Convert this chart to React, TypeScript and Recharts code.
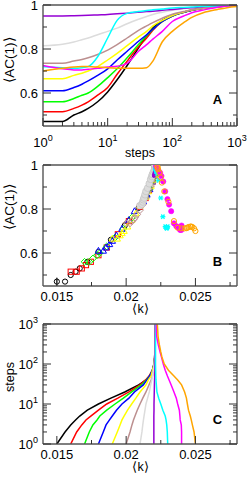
import React from "react"
import { LineChart, Line, XAxis, YAxis, ScatterChart, Scatter, ErrorBar } from "recharts"

// sampled simulation steps (shared by all runs)
const steps = [1, 2, 3, 4, 5, 7, 10, 14, 20, 30, 40, 50, 70, 100, 150, 200, 300, 500, 700, 1000]

// <k> per step for each run
const blackK = [0.015, 0.01559, 0.016, 0.01635, 0.01665, 0.0172, 0.018, 0.0189, 0.0199, 0.0209, 0.02145, 0.0217, 0.0219, 0.022, 0.02205, 0.02208, 0.0221, 0.0221, 0.0221, 0.0221]
const redK = [0.016, 0.01643, 0.0168, 0.0171, 0.01745, 0.018, 0.0186, 0.0194, 0.0202, 0.021, 0.0214, 0.02165, 0.0219, 0.02203, 0.02207, 0.0221, 0.0221, 0.0221, 0.0221, 0.0221]
const greenK = [0.017, 0.01734, 0.0176, 0.0179, 0.0181, 0.0186, 0.0192, 0.0198, 0.0204, 0.0211, 0.02145, 0.0217, 0.0219, 0.02203, 0.02207, 0.0221, 0.0221, 0.0221, 0.0221, 0.0221]
const blueK = [0.018, 0.01835, 0.01855, 0.0188, 0.019, 0.0193, 0.0197, 0.0202, 0.0206, 0.02124, 0.0215, 0.0217, 0.0219, 0.02203, 0.02207, 0.0221, 0.0221, 0.0221, 0.0221, 0.0221]
const yellowK = [0.019, 0.01936, 0.01956, 0.0197, 0.01985, 0.0201, 0.0204, 0.0207, 0.021, 0.02143, 0.0216, 0.0218, 0.0219, 0.02203, 0.02207, 0.0221, 0.0221, 0.0221, 0.0221, 0.0221]
const brownK = [0.02, 0.02028, 0.02042, 0.02053, 0.02064, 0.0208, 0.021, 0.0212, 0.02143, 0.02165, 0.0218, 0.0219, 0.02198, 0.02203, 0.02207, 0.0221, 0.0221, 0.0221, 0.0221, 0.0221]
const greyK = [0.021, 0.02114, 0.0212, 0.02125, 0.02129, 0.02136, 0.02143, 0.02155, 0.02167, 0.02177, 0.02185, 0.0219, 0.02197, 0.02203, 0.02207, 0.0221, 0.0221, 0.0221, 0.0221, 0.0221]
const violetK = [0.022, 0.022, 0.022, 0.022, 0.022, 0.02201, 0.02201, 0.02202, 0.02203, 0.02204, 0.02205, 0.02206, 0.02207, 0.02208, 0.02209, 0.0221, 0.0221, 0.0221, 0.0221, 0.0221]
const cyanK = [0.023, 0.02297, 0.02293, 0.02288, 0.02282, 0.02265, 0.0225, 0.02235, 0.02222, 0.02218, 0.02215, 0.02214, 0.02213, 0.02212, 0.02212, 0.02212, 0.02212, 0.02213, 0.02213, 0.02213]
const magentaK = [0.024, 0.024, 0.02398, 0.0239, 0.02388, 0.02384, 0.02372, 0.02362, 0.02345, 0.02325, 0.0231, 0.02298, 0.02282, 0.02268, 0.02255, 0.02245, 0.02232, 0.0222, 0.02218, 0.02217]
const orangeK = [0.025, 0.0249, 0.02478, 0.0247, 0.02463, 0.0245, 0.02442, 0.02435, 0.02422, 0.024, 0.02372, 0.02345, 0.02305, 0.02275, 0.02258, 0.0225, 0.0224, 0.0223, 0.02228, 0.02225]

// <AC(1)> per step for each run
const blackAc = [0.47, 0.47, 0.5, 0.515, 0.53, 0.56, 0.605, 0.66, 0.725, 0.805, 0.86, 0.895, 0.93, 0.952, 0.968, 0.977, 0.986, 0.993, 0.996, 0.998]
const redAc = [0.515, 0.515, 0.53, 0.545, 0.56, 0.59, 0.625, 0.685, 0.745, 0.81, 0.85, 0.885, 0.925, 0.95, 0.967, 0.976, 0.985, 0.992, 0.995, 0.998]
const greenAc = [0.56, 0.56, 0.575, 0.59, 0.6, 0.63, 0.67, 0.71, 0.76, 0.82, 0.86, 0.89, 0.925, 0.95, 0.967, 0.976, 0.985, 0.992, 0.995, 0.998]
const blueAc = [0.61, 0.61, 0.625, 0.64, 0.655, 0.68, 0.71, 0.75, 0.79, 0.835, 0.865, 0.89, 0.925, 0.95, 0.967, 0.976, 0.985, 0.992, 0.995, 0.998]
const yellowAc = [0.665, 0.665, 0.68, 0.69, 0.7, 0.72, 0.75, 0.78, 0.815, 0.855, 0.88, 0.905, 0.93, 0.952, 0.968, 0.977, 0.985, 0.992, 0.995, 0.998]
const brownAc = [0.735, 0.735, 0.745, 0.752, 0.76, 0.775, 0.795, 0.82, 0.85, 0.885, 0.905, 0.92, 0.94, 0.958, 0.97, 0.978, 0.986, 0.993, 0.996, 0.998]
const greyAc = [0.815, 0.822, 0.832, 0.842, 0.85, 0.865, 0.88, 0.895, 0.915, 0.935, 0.948, 0.957, 0.967, 0.976, 0.983, 0.988, 0.992, 0.995, 0.997, 0.998]
const violetAc = [0.95, 0.95, 0.951, 0.952, 0.953, 0.955, 0.957, 0.96, 0.963, 0.967, 0.97, 0.972, 0.976, 0.98, 0.985, 0.988, 0.992, 0.995, 0.997, 0.998]
const cyanAc = [0.72, 0.715, 0.712, 0.715, 0.72, 0.765, 0.85, 0.93, 0.962, 0.97, 0.975, 0.978, 0.982, 0.986, 0.989, 0.991, 0.994, 0.996, 0.997, 0.998]
const magentaAc = [0.725, 0.71, 0.705, 0.705, 0.708, 0.712, 0.718, 0.722, 0.735, 0.79, 0.82, 0.845, 0.88, 0.925, 0.95, 0.965, 0.977, 0.99, 0.995, 0.998]
const orangeAc = [0.7, 0.712, 0.718, 0.72, 0.72, 0.718, 0.715, 0.713, 0.712, 0.712, 0.715, 0.745, 0.833, 0.88, 0.92, 0.944, 0.965, 0.98, 0.988, 0.993]
const blackAcErr = [0.018]

// axis ticks
const logTicks = [1, 2, 3, 4, 5, 6, 7, 8, 9, 10, 20, 30, 40, 50, 60, 70, 80, 90, 100, 200, 300, 400, 500, 600, 700, 800, 900, 1000]
const logMajor = [1, 10, 100, 1000]
const acTicks = [0.5, 0.6, 0.7, 0.8, 0.9, 1]
const acMajor = [0.6, 0.8, 1]
const kTicks = [0.015, 0.0175, 0.02, 0.0225, 0.025, 0.0275]
const kMajor = [0.015, 0.02, 0.025]

type Mark = "circle" | "square" | "diamond" | "triangle" | "star" | "dot" | "disc"

const runs: { color: string; k: number[]; ac: number[]; mark: Mark }[] = [
  { color: "#000000", k: blackK, ac: blackAc, mark: "circle" },
  { color: "#ff0000", k: redK, ac: redAc, mark: "square" },
  { color: "#00ff00", k: greenK, ac: greenAc, mark: "diamond" },
  { color: "#0000ff", k: blueK, ac: blueAc, mark: "triangle" },
  { color: "#ffff00", k: yellowK, ac: yellowAc, mark: "triangle" },
  { color: "#bc8f8f", k: brownK, ac: brownAc, mark: "diamond" },
  { color: "#dcdcdc", k: greyK, ac: greyAc, mark: "disc" },
  { color: "#9400d3", k: violetK, ac: violetAc, mark: "dot" },
  { color: "#00ffff", k: cyanK, ac: cyanAc, mark: "star" },
  { color: "#ff00ff", k: magentaK, ac: magentaAc, mark: "disc" },
  { color: "#ffa500", k: orangeK, ac: orangeAc, mark: "circle" },
]

const FRAME = "#555555"
const FONT = "'Liberation Sans', Arial, Helvetica, sans-serif"

type Side = "bottom" | "top" | "left" | "right"

function isMajor(v: number, majors: number[]) {
  return majors.some((m) => Math.abs(m - v) <= Math.abs(m) * 1e-6)
}

function makeTick(side: Side, majors: number[], label?: (v: number) => React.ReactNode, off = 0) {
  return (props: any) => {
    const { x, y, payload } = props
    const v = payload.value
    const major = isMajor(v, majors)
    const len = major ? 8 : 4
    let x2 = x, y2 = y
    if (side === "bottom") y2 = y - len
    if (side === "top") y2 = y + len
    if (side === "left") x2 = x + len
    if (side === "right") x2 = x - len
    let text = null
    if (major && label) {
      if (side === "bottom") {
        text = (
          <text x={x} y={y + off} textAnchor="middle" fontSize={13} fontFamily={FONT} fill="#000">
            {label(v)}
          </text>
        )
      } else if (side === "left") {
        text = (
          <text x={x - 5} y={y} dy="0.36em" textAnchor="end" fontSize={13} fontFamily={FONT} fill="#000">
            {label(v)}
          </text>
        )
      }
    }
    return (
      <g>
        <line x1={x} y1={y} x2={x2} y2={y2} stroke="#333" strokeWidth={1} />
        {text}
      </g>
    )
  }
}

const plain = (v: number) => String(v)
const pow10 = (v: number) => (
  <>
    10
    <tspan dy={-6} fontSize={9}>
      {String(Math.round(Math.log10(v)))}
    </tspan>
  </>
)

function marker(kind: Mark, color: string) {
  return (p: any) => {
    const { cx, cy } = p
    if (cx == null || cy == null) return <g />
    const sw = 1
    switch (kind) {
      case "square":
        return <rect x={cx - 2.6} y={cy - 2.6} width={5.2} height={5.2} fill="none" stroke={color} strokeWidth={sw} />
      case "diamond":
        return <polygon points={`${cx},${cy - 3.4} ${cx + 3.4},${cy} ${cx},${cy + 3.4} ${cx - 3.4},${cy}`} fill="none" stroke={color} strokeWidth={sw} />
      case "triangle":
        return <polygon points={`${cx},${cy - 3.4} ${cx + 3.2},${cy + 2.4} ${cx - 3.2},${cy + 2.4}`} fill="none" stroke={color} strokeWidth={sw} />
      case "star":
        return (
          <g stroke={color} strokeWidth={1.3}>
            <line x1={cx - 2.5} y1={cy} x2={cx + 2.5} y2={cy} />
            <line x1={cx - 1.6} y1={cy - 2.2} x2={cx + 1.6} y2={cy + 2.2} />
            <line x1={cx - 1.6} y1={cy + 2.2} x2={cx + 1.6} y2={cy - 2.2} />
          </g>
        )
      case "dot":
        return <circle cx={cx} cy={cy} r={1.6} fill={color} />
      case "disc":
        return <circle cx={cx} cy={cy} r={color === "#dcdcdc" ? 3.4 : 2.6} fill={color} stroke={color === "#dcdcdc" ? "#c0c0c0" : color} strokeWidth={0.6} />
      default:
        return <circle cx={cx} cy={cy} r={2.6} fill="none" stroke={color} strokeWidth={sw} />
    }
  }
}

function Title({ x, y, children, rotate, bold, size = 13 }: any) {
  return (
    <div
      style={{
        position: "absolute",
        left: x,
        top: y,
        transform: `translate(-50%, -50%)${rotate ? " rotate(-90deg)" : ""}`,
        fontFamily: FONT,
        fontSize: size,
        fontWeight: bold ? "bold" : "normal",
        lineHeight: 1,
        whiteSpace: "nowrap",
        color: "#000",
      }}
    >
      {children}
    </div>
  )
}

const axisLine = { stroke: FRAME, strokeWidth: 1.4 }
const W = 249

function frameAxes(
  xScale: "log" | "linear",
  xDomain: number[],
  xTicks: number[],
  xMajor: number[],
  xLabel: (v: number) => React.ReactNode,
  xOff: number,
  yScale: "log" | "linear",
  yDomain: number[],
  yTicks: number[],
  yMajor: number[],
  yLabel: (v: number) => React.ReactNode,
  xKey: string,
  yKey?: string
) {
  const common = { tickLine: false, tickSize: 0, tickMargin: 0, interval: 0 as const, axisLine, allowDataOverflow: true }
  return [
    <XAxis key="xb" xAxisId="b" dataKey={xKey} type="number" scale={xScale} domain={xDomain} ticks={xTicks} height={34} tick={makeTick("bottom", xMajor, xLabel, xOff)} {...common} />,
    <XAxis key="xt" xAxisId="t" orientation="top" mirror type="number" scale={xScale} domain={xDomain} ticks={xTicks} height={10} tick={makeTick("top", xMajor)} {...common} />,
    <YAxis key="yl" yAxisId="l" dataKey={yKey} type="number" scale={yScale} domain={yDomain} ticks={yTicks} width={43} tick={makeTick("left", yMajor, yLabel)} {...common} />,
    <YAxis key="yr" yAxisId="r" orientation="right" mirror type="number" scale={yScale} domain={yDomain} ticks={yTicks} width={10} tick={makeTick("right", yMajor)} {...common} />,
  ]
}

export default function App() {
  const rows = runs.map((r) => steps.map((s, i) => ({ s, k: r.k[i], ac: r.ac[i], err: r.color === "#000000" ? blackAcErr[i] ?? 0 : 0 })))

  return (
    <div style={{ position: "absolute", left: 0, top: 0, width: W, height: 478, background: "#fff" }}>
      {/* A: <AC(1)> vs steps */}
      <div style={{ position: "absolute", left: 0, top: 0 }}>
        <LineChart width={W} height={160} margin={{ top: 5, right: 12, bottom: 0, left: 0 }}>
          {frameAxes("log", [1, 1000], logTicks, logMajor, pow10, 21, "linear", [0.45, 1], acTicks, acMajor, plain, "s")}
          {runs.map((r, i) => (
            <Line key={i} xAxisId="b" yAxisId="l" data={rows[i]} dataKey="ac" type="monotone" stroke={r.color} strokeWidth={1.5} dot={false} isAnimationActive={false} />
          ))}
        </LineChart>
      </div>

      {/* B: <AC(1)> vs <k> */}
      <div style={{ position: "absolute", left: 0, top: 147 }}>
        <ScatterChart width={W} height={173} margin={{ top: 18, right: 12, bottom: 0, left: 0 }}>
          {frameAxes("linear", [0.014, 0.028], kTicks, kMajor, plain, 14.5, "linear", [0.45, 1], acTicks, acMajor, plain, "k", "ac")}
          {runs.map((r, i) => (
            <Scatter key={i} xAxisId="b" yAxisId="l" data={rows[i]} shape={marker(r.mark, r.color)} isAnimationActive={false}>
              {i === 0 ? <ErrorBar dataKey="err" direction="y" width={0} stroke="#000" strokeWidth={1} /> : null}
            </Scatter>
          ))}
        </ScatterChart>
      </div>

      {/* C: steps vs <k> */}
      <div style={{ position: "absolute", left: 0, top: 306 }}>
        <LineChart width={W} height={172} margin={{ top: 18, right: 12, bottom: 0, left: 0 }}>
          {frameAxes("linear", [0.014, 0.028], kTicks, kMajor, plain, 14.5, "log", [1, 1000], logTicks, logMajor, pow10, "k")}
          {runs.map((r, i) => (
            <Line key={i} xAxisId="b" yAxisId="l" data={rows[i]} dataKey="s" type="linear" stroke={r.color} strokeWidth={1.5} dot={false} isAnimationActive={false} />
          ))}
        </LineChart>
      </div>

      <Title x={10} y={60} rotate size={13.5}>⟨AC(1)⟩</Title>
      <Title x={140} y={152.5} size={12.5}>steps</Title>
      <Title x={217.5} y={99} bold>A</Title>

      <Title x={10} y={207} rotate size={13.5}>⟨AC(1)⟩</Title>
      <Title x={140.5} y={308.5} size={12.5}>⟨k⟩</Title>
      <Title x={217.5} y={260.5} bold>B</Title>

      <Title x={10} y={377} rotate size={12.5}>steps</Title>
      <Title x={140.5} y={467} size={12.5}>⟨k⟩</Title>
      <Title x={217.5} y={418.5} bold>C</Title>
    </div>
  )
}
